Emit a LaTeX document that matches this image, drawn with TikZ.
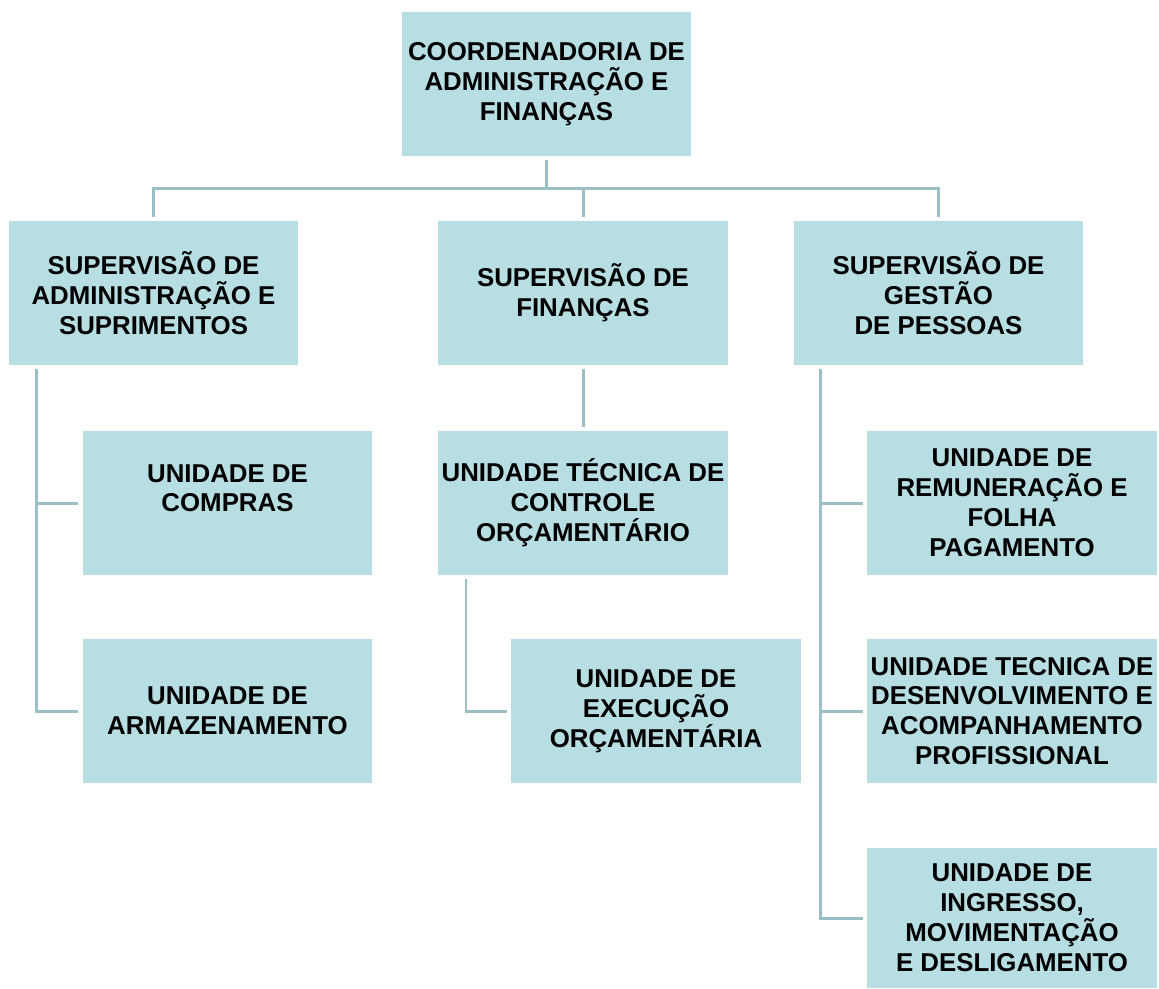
\documentclass[tikz,border=0pt]{standalone}
\usepackage{fontspec}
\setmainfont{Liberation Sans}
\usetikzlibrary{calc}
\definecolor{caixaazul}{RGB}{183,222,226}
\definecolor{linhaazul}{RGB}{155,191,196}
\begin{document}
\begin{tikzpicture}[x = 0.02cm, y = -0.02cm,
    caixa/.style = {fill=caixaazul, minimum width=5.8cm, minimum height=2.88cm,
        inner sep=0pt, outer sep=2.3pt, align=center,
        font=\fontsize{14.7}{17}\selectfont\bfseries},
    linha/.style = {draw=linhaazul, line width=1.7pt}]
    \useasboundingbox (0,0) rectangle (1159,988);
    % coordenadoria
    \node[caixa] (coord) at (546.5,84) {COORDENADORIA DE\\ADMINISTRAÇÃO E\\FINANÇAS};
    % supervisoes
    \node[caixa] (sa) at (153.5,293) {SUPERVISÃO DE\\ADMINISTRAÇÃO E\\SUPRIMENTOS};
    \node[caixa] (sf) at (583,293) {SUPERVISÃO DE\\FINANÇAS};
    \node[caixa] (sg) at (938.5,293) {SUPERVISÃO DE\\GESTÃO\\DE PESSOAS};
    % unidades
    \node[caixa] (uc) at (227.5,503) {UNIDADE DE\\COMPRAS\\~};
    \node[caixa] (ua) at (227.5,711) {UNIDADE DE\\ARMAZENAMENTO};
    \node[caixa] (ut) at (583,503) {UNIDADE TÉCNICA DE\\CONTROLE\\ORÇAMENTÁRIO};
    \node[caixa] (ue) at (656,711) {UNIDADE DE\\EXECUÇÃO\\ORÇAMENTÁRIA};
    \node[caixa] (ur) at (1012,503) {UNIDADE DE\\REMUNERAÇÃO E\\FOLHA\\PAGAMENTO};
    \node[caixa] (ud) at (1012,711) {UNIDADE TECNICA DE\\DESENVOLVIMENTO E\\ACOMPANHAMENTO\\PROFISSIONAL};
    \node[caixa, minimum height=2.8cm] (ui) at (1012,918) {UNIDADE DE\\INGRESSO,\\MOVIMENTAÇÃO\\E DESLIGAMENTO};
    % ligacoes
    \coordinate (barra) at (546.5,188);
    \draw[linha] (coord.south) -- (barra);
    \draw[linha] (sa.north) |- (barra) -| (sg.north);
    \draw[linha] (sf.north) -- (sf.north |- barra);
    \draw[linha] ($(sa.south west)+(32,0)$) |- (uc.west);
    \draw[linha] ($(sa.south west)+(32,0)$) |- (ua.west);
    \draw[linha] (sf.south) -- (ut.north);
    \draw[linha] ($(ut.south west)+(32,0)$) |- (ue.west);
    \draw[linha] ($(sg.south west)+(31,0)$) |- (ur.west);
    \draw[linha] ($(sg.south west)+(31,0)$) |- (ud.west);
    \draw[linha] ($(sg.south west)+(31,0)$) |- (ui.west);
\end{tikzpicture}
\end{document}
